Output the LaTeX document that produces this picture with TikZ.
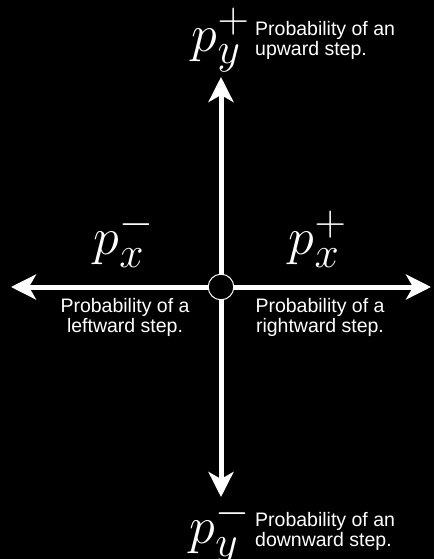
\documentclass[tikz,border=0pt]{standalone}
\usepackage{fontspec}
\setmainfont{Liberation Sans}
\usepackage{tikz}
\usetikzlibrary{arrows.meta, positioning}
\definecolor{rwback}{HTML}{000000}
\definecolor{rwline}{HTML}{FFFFFF}

\begin{document}
\begin{tikzpicture}[x=1pt, y=-1pt,
      walk/.style={-{Stealth[length=25pt, width=25pt, inset=7pt]}, line width=5pt, draw=rwline},
      dot/.style={circle, draw=rwline, fill=rwback, line width=1pt, minimum size=25.6pt, inner sep=0pt},
      prob/.style={text=rwline, inner sep=0pt, font=\Huge, scale=2.1, transform shape},
      note/.style={text=rwline, inner sep=0pt, font=\fontsize{19.5}{20}\selectfont}]
      \fill[rwback] (0,0) rectangle (434,559);
      \useasboundingbox (0,0) rectangle (434,559);

      % walker and its four steps
      \node[dot] (walker) at (221,287) {};
      \coordinate (upend) at (221,77);
      \coordinate (downend) at (221,497);
      \coordinate (leftend) at (11,287);
      \coordinate (rightend) at (431,287);
      \draw[walk] (walker.north) -- (upend);
      \draw[walk] (walker.south) -- (downend);
      \draw[walk] (walker.west) -- (leftend);
      \draw[walk] (walker.east) -- (rightend);

      % probabilities
      \node[prob] (pyup) at (221,40) {$p_y^+$};
      \node[prob] (pxleft) at (124,239) {$p_x^-$};
      \node[prob] (pxright) at (318,239) {$p_x^+$};
      \node[prob] (pydown) at (220,532) {$p_y^-$};

      \node[note, align=left, anchor=west] (upnote) at (255,40) {Probability of an\\upward step.};
      \node[note, align=center] (leftnote) at (125,317) {Probability of a\\leftward step.};
      \node[note, align=center] (rightnote) at (320,317) {Probability of a\\rightward step.};
      \node[note, align=left, anchor=west] (downnote) at (255,531) {Probability of an\\downward step.};
    \end{tikzpicture}
\end{document}
